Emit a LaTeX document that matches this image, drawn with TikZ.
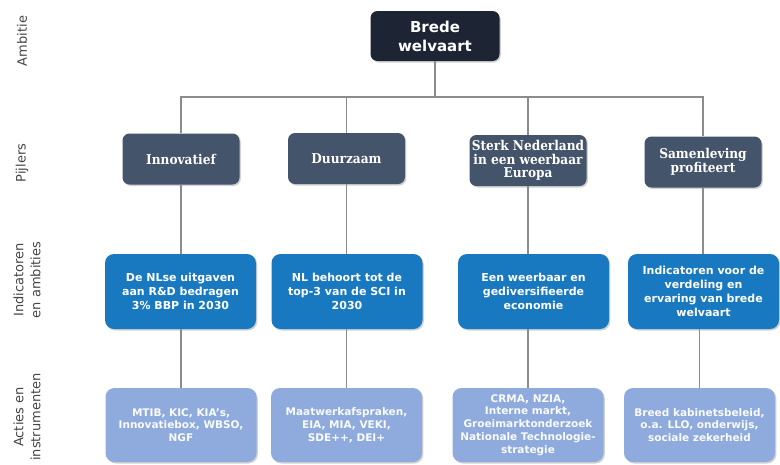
\documentclass[tikz,border=0pt]{standalone}
\usepackage{fontspec}
\setmainfont{DejaVu Sans}
\newfontfamily\pijlerfont{DejaVu Serif Condensed}
\usetikzlibrary{shadows}

\definecolor{ambitieblauw}{RGB}{29,37,52}
\definecolor{pijlergrijs}{HTML}{44546A}
\definecolor{indicatorblauw}{RGB}{24,121,192}
\definecolor{actieblauw}{HTML}{8FAADC}
\definecolor{lijngrijs}{RGB}{140,140,140}
\definecolor{laaggrijs}{RGB}{70,70,70}

\begin{document}
\begin{tikzpicture}[x=1pt, y=-1pt,
    box/.style = {rounded corners=7pt, align=center, inner sep=0pt, text=white,
        drop shadow={shadow xshift=1.3pt, shadow yshift=-1.5pt, opacity=.35}},
    ambitie/.style = {box, fill=ambitieblauw, minimum width=129pt, minimum height=50pt,
        font=\bfseries\fontsize{15}{19}\selectfont},
    pijler/.style = {box, fill=pijlergrijs, minimum width=117pt, minimum height=51pt,
        font=\pijlerfont\bfseries\fontsize{13.5}{13.5}\selectfont},
    indicator/.style = {box, rounded corners=9pt, fill=indicatorblauw, minimum width=151pt,
        minimum height=75pt, font=\bfseries\fontsize{11}{14}\selectfont},
    actie/.style = {box, rounded corners=9pt, fill=actieblauw, minimum width=151pt,
        minimum height=74pt, text=white!95!actieblauw, font=\bfseries\fontsize{10.5}{12.8}\selectfont},
    laag/.style = {rotate=90, align=center, text=laaggrijs, font=\fontsize{13}{17}\selectfont},
    link/.style = {draw=lijngrijs, line width=1.4pt}]
    \useasboundingbox[fill=white] (0,0) rectangle (780,464);

    \node[laag] (LA) at (22,41) {Ambitie};
    \node[laag] (LP) at (22,163) {Pijlers};
    \node[laag] (LI) at (27,280) {Indicatoren\\en ambities};
    \node[laag] (LAI) at (27,417) {Acties en\\instrumenten};

    \node[ambitie] (BW) at (435,36) {Brede\\welvaart};
    \coordinate (bus) at (435,97);

    \node[pijler] (P1) at (181,159) {Innovatief};
    \node[pijler] (P2) at (346.5,158.5) {Duurzaam};
    \node[pijler] (P3) at (528,160.5) {Sterk Nederland\\in een weerbaar\\Europa};
    \node[pijler] (P4) at (703,162) {Samenleving\\profiteert};

    \node[indicator] (I1) at (180.5,291.5) {De NLse uitgaven\\aan R\&D bedragen\\3\% BBP in 2030};
    \node[indicator] (I2) at (347,291.5) {NL behoort tot de\\top-3 van de SCI in\\2030};
    \node[indicator] (I3) at (533.5,291.5) {Een weerbaar en\\gediversifieerde\\economie};
    \node[indicator] (I4) at (703.5,291.5) {Indicatoren voor de\\verdeling en\\ervaring van brede\\welvaart};

    \node[actie] (A1) at (181,425) {MTIB, KIC, KIA's,\\Innovatiebox, WBSO,\\NGF};
    \node[actie] (A2) at (346.5,425) {Maatwerkafspraken,\\EIA, MIA, VEKI,\\SDE++, DEI+};
    \node[actie] (A3) at (528,425) {CRMA, NZIA,\\Interne markt,\\Groeimarktonderzoek\\Nationale Technologie-\\strategie};
    \node[actie] (A4) at (699.5,425) {Breed kabinetsbeleid,\\o.a. LLO, onderwijs,\\sociale zekerheid};

    \draw[link]
    (BW.south) -- (bus)
    (P1.north) |- (bus) -| (P4.north)
    (P2.north) -- (P2.north |- bus)
    (P3.north) -- (P3.north |- bus)
    (P1.south) -- (P1.south |- I1.north)
    (P2.south) -- (P2.south |- I2.north)
    (P3.south) -- (P3.south |- I3.north)
    (P4.south) -- (P4.south |- I4.north)
    (A1.north) -- (A1.north |- I1.south)
    (A2.north) -- (A2.north |- I2.south)
    (A3.north) -- (A3.north |- I3.south)
    (A4.north) -- (A4.north |- I4.south)
    ;
\end{tikzpicture}
\end{document}
